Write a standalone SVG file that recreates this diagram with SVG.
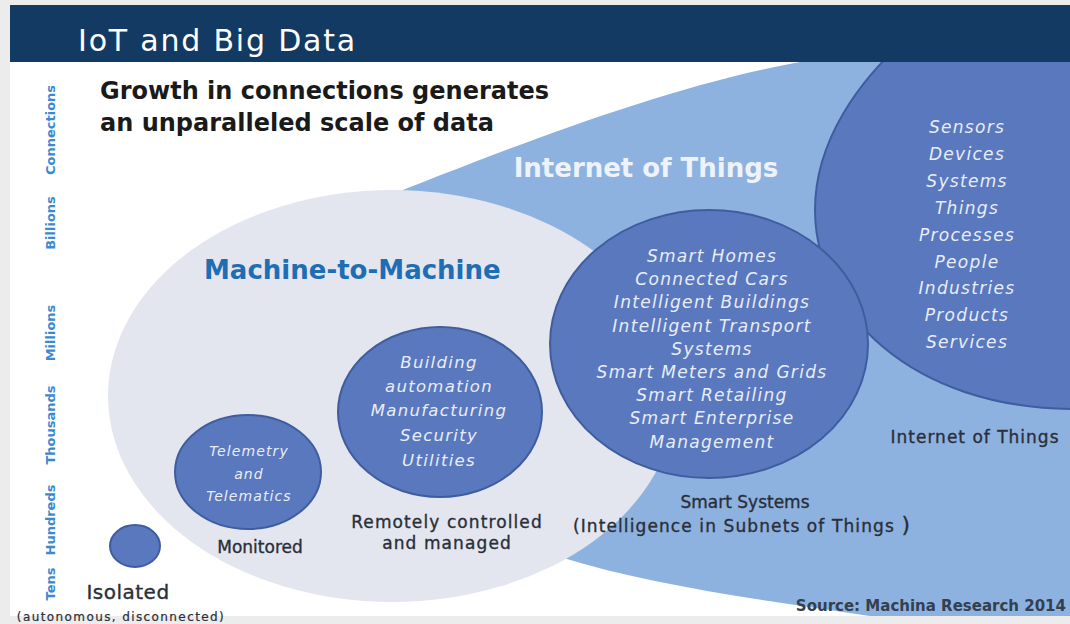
<svg xmlns="http://www.w3.org/2000/svg" width="1070" height="624" viewBox="0 0 1070 624">
<style>
.bg{fill:#ececec}
.page{fill:#ffffff}
.hdr{fill:#133a62}
.blob{fill:#8db2e0}
.m2m{fill:#e3e6ef}
.dot{fill:#5a78be;stroke:#3f5d9e;stroke-width:2}
.it{font-family:"DejaVu Sans","Liberation Sans",sans-serif;font-style:italic;fill:#e9edf7;text-anchor:middle;font-size:17px;letter-spacing:1.3px}
.lbl{font-family:"DejaVu Sans","Liberation Sans",sans-serif;fill:#2a2e38;stroke:#2a2e38;stroke-width:0.35px;font-size:17px;text-anchor:middle}
.axis{font-family:"DejaVu Sans","Liberation Sans",sans-serif;font-weight:bold;font-size:13px;fill:#3b8ad0;text-anchor:middle}
.title{font-family:"DejaVu Sans","Liberation Sans",sans-serif;fill:#ffffff;font-size:30px;letter-spacing:1.8px}
.head{font-family:"DejaVu Sans","Liberation Sans",sans-serif;font-weight:bold;fill:#1a1a1a;font-size:24px}
</style>
<rect class="bg" x="0" y="0" width="1070" height="624"/>
<rect class="page" x="10" y="5" width="1060" height="611"/>

<g id="iot-region">
<path class="blob" d="M380,199 C500,152 700,70 850,55 L1070,55 L1070,616 L870,616 C760,600 650,585 560,557 L500,520 Z"/>
<text x="646" y="177" style="font-family:'DejaVu Sans','Liberation Sans',sans-serif;font-weight:bold;font-size:26px;fill:#eef3fb;text-anchor:middle">Internet of Things</text>
<text class="lbl" x="975" y="443" style="letter-spacing:1px">Internet of Things</text>
</g>

<g id="m2m">
<ellipse class="m2m" cx="392" cy="396" rx="284" ry="206"/>
<text x="204" y="279" style="font-family:'DejaVu Sans','Liberation Sans',sans-serif;font-weight:bold;font-size:26px;fill:#1f6db3">Machine-to-Machine</text>
</g>

<g id="iot-things">
<path class="dot" d="M905,40 C860,80 815,140 815,210 C815,310 910,409 1075,409 L1075,40 Z"/>
<text class="it" x="967" y="133">Sensors</text>
<text class="it" x="967" y="160">Devices</text>
<text class="it" x="967" y="187">Systems</text>
<text class="it" x="967" y="214">Things</text>
<text class="it" x="967" y="241">Processes</text>
<text class="it" x="967" y="268">People</text>
<text class="it" x="967" y="294">Industries</text>
<text class="it" x="967" y="321">Products</text>
<text class="it" x="967" y="348">Services</text>
</g>

<g id="smart-systems">
<ellipse class="dot" cx="709" cy="344" rx="159" ry="134"/>
<text class="it" x="712" y="262">Smart Homes</text>
<text class="it" x="712" y="285">Connected Cars</text>
<text class="it" x="712" y="308">Intelligent Buildings</text>
<text class="it" x="712" y="332">Intelligent Transport</text>
<text class="it" x="712" y="355">Systems</text>
<text class="it" x="712" y="378">Smart Meters and Grids</text>
<text class="it" x="712" y="401">Smart Retailing</text>
<text class="it" x="712" y="424">Smart Enterprise</text>
<text class="it" x="712" y="448">Management</text>
<text class="lbl" x="745" y="508">Smart Systems</text>
<text class="lbl" x="573" y="532" style="text-anchor:start;letter-spacing:1.1px">(Intelligence in Subnets of Things <tspan style="font-size:22px">)</tspan></text>
</g>

<g id="building">
<ellipse class="dot" cx="440" cy="412" rx="102" ry="85"/>
<text class="it" x="439" y="368" style="font-size:16.5px">Building</text>
<text class="it" x="439" y="392" style="font-size:16.5px">automation</text>
<text class="it" x="439" y="416" style="font-size:16.5px">Manufacturing</text>
<text class="it" x="439" y="441" style="font-size:16.5px">Security</text>
<text class="it" x="439" y="466" style="font-size:16.5px">Utilities</text>
<text class="lbl" x="447" y="528" style="letter-spacing:1.1px">Remotely controlled</text>
<text class="lbl" x="447" y="549" style="letter-spacing:1.1px">and managed</text>
</g>

<g id="telemetry">
<ellipse class="dot" cx="248" cy="472" rx="73" ry="57"/>
<text class="it" x="249" y="456" style="font-size:14px;letter-spacing:1.1px">Telemetry</text>
<text class="it" x="249" y="479" style="font-size:14px;letter-spacing:1.1px">and</text>
<text class="it" x="249" y="501" style="font-size:14px;letter-spacing:1.1px">Telematics</text>
<text class="lbl" x="260" y="553">Monitored</text>
</g>

<g id="isolated">
<ellipse class="dot" cx="135" cy="546" rx="25" ry="21"/>
<text class="lbl" x="128" y="599" style="font-size:20px;letter-spacing:0.5px">Isolated</text>
<text class="lbl" x="121" y="621" style="font-size:12px;letter-spacing:1.4px;stroke-width:0.2px">(autonomous, disconnected)</text>
</g>

<g id="connectors"></g>

<g id="axis">
<text class="axis" transform="translate(55,584) rotate(-90)">Tens</text>
<text class="axis" transform="translate(55,520) rotate(-90)">Hundreds</text>
<text class="axis" transform="translate(55,425) rotate(-90)">Thousands</text>
<text class="axis" transform="translate(55,333) rotate(-90)">Millions</text>
<text class="axis" transform="translate(55,223) rotate(-90)">Billions</text>
<text class="axis" transform="translate(55,130) rotate(-90)">Connections</text>
</g>

<g id="heading">
<text class="head" x="100" y="99">Growth in connections generates</text>
<text class="head" x="100" y="131">an unparalleled scale of data</text>
</g>

<text x="1066" y="611" style="font-family:'DejaVu Sans','Liberation Sans',sans-serif;font-weight:bold;font-size:15px;fill:#33404f;text-anchor:end">Source: Machina Research 2014</text>

<g id="header">
<rect class="hdr" x="10" y="5" width="1060" height="57"/>
<text class="title" x="78" y="51">IoT and Big Data</text>
</g>
</svg>
